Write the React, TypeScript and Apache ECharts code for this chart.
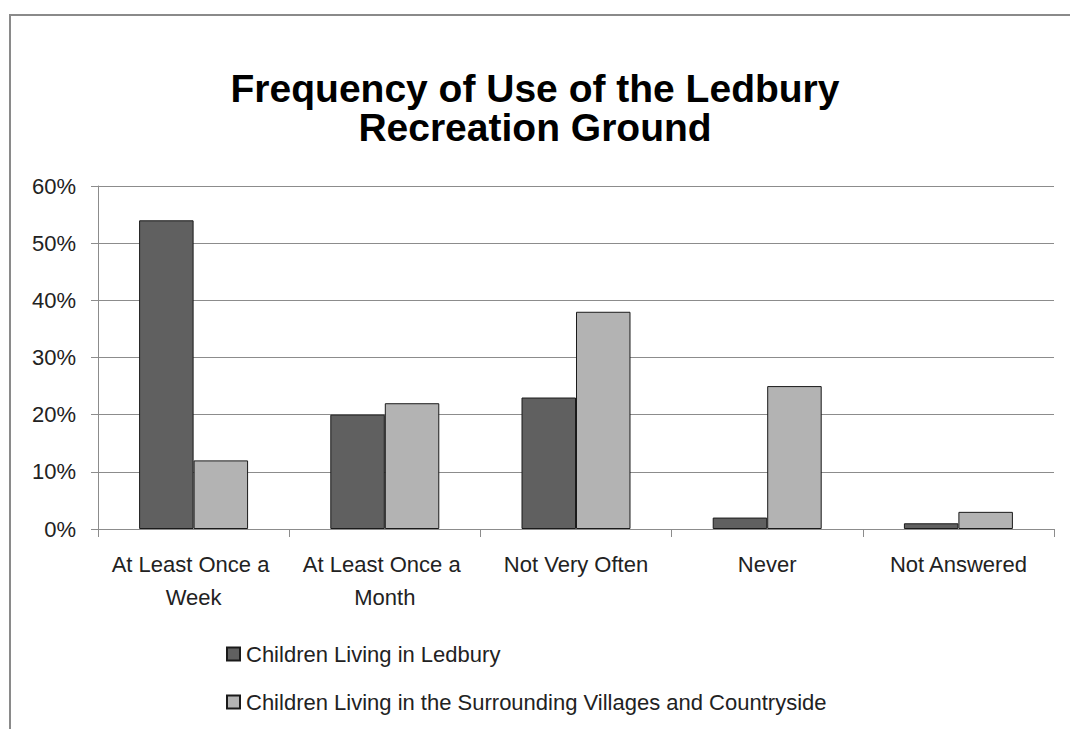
import React, { useEffect, useRef } from "react";
import * as echarts from "echarts";

const categories = ["At Least Once a Week", "At Least Once a Month", "Not Very Often", "Never", "Not Answered"];
const ledbury = [54, 20, 23, 2, 1];
const villages = [12, 22, 38, 25, 3];
const seriesNames = ["Children Living in Ledbury", "Children Living in the Surrounding Villages and Countryside"];
const yTicks = [0, 10, 20, 30, 40, 50, 60];

export default function App() {
  const ref = useRef<HTMLDivElement>(null);
  useEffect(() => {
    if (!ref.current) return;
    const chart = echarts.init(ref.current, null, { renderer: "svg" });
    const font = "'Liberation Sans', Arial, sans-serif";
    chart.setOption({
      animation: false,
      backgroundColor: "#ffffff",
      title: {
        text: "Frequency of Use of the Ledbury\nRecreation Ground",
        left: "center",
        top: 64,
        textStyle: { fontFamily: font, fontWeight: "bold", fontSize: 39, lineHeight: 39, color: "#000" },
      },
      graphic: [
        {
          type: "rect",
          shape: { x: 10, y: 15, width: 1100, height: 800 },
          style: { fill: "none", stroke: "#8a8a8a", lineWidth: 2 },
          silent: true,
          z: -1,
        },
      ],
      legend: {
        orient: "vertical",
        left: 221,
        top: 638,
        itemGap: 26,
        itemWidth: 13,
        itemHeight: 13,
        icon: "rect",
        textStyle: { fontFamily: font, fontSize: 22, color: "#222", padding: [0, 0, 0, 1] },
        data: seriesNames,
      },
      grid: { left: 98, right: 16, top: 186, bottom: 200 },
      xAxis: {
        type: "category",
        data: categories,
        axisLine: { lineStyle: { color: "#8c8c8c", width: 1 } },
        axisTick: { show: true, length: 8, lineStyle: { color: "#8c8c8c" } },
        axisLabel: {
          interval: 0,
          width: 180,
          overflow: "break",
          fontFamily: font,
          fontSize: 22,
          lineHeight: 33,
          margin: 19,
          color: "#222",
        },
      },
      yAxis: {
        type: "value",
        min: 0,
        max: 60,
        interval: 10,
        axisLine: { show: true, lineStyle: { color: "#8c8c8c", width: 1 } },
        axisTick: { show: true, length: 7, lineStyle: { color: "#8c8c8c" } },
        splitLine: { lineStyle: { color: "#8c8c8c", width: 1 } },
        axisLabel: {
          fontFamily: font,
          fontSize: 22,
          margin: 22,
          color: "#222",
          formatter: (v: number) => (yTicks.includes(v) ? v + "%" : ""),
        },
      },
      series: [
        {
          name: seriesNames[0],
          type: "bar",
          data: ledbury,
          barGap: "0%",
          barCategoryGap: "43%",
          itemStyle: { color: "#606060", borderColor: "#1a1a1a", borderWidth: 1 },
        },
        {
          name: seriesNames[1],
          type: "bar",
          data: villages,
          itemStyle: { color: "#b3b3b3", borderColor: "#1a1a1a", borderWidth: 1 },
        },
      ],
    });
    return () => chart.dispose();
  }, []);
  return (
    <div
      ref={ref}
      style={{ position: "fixed", left: 0, top: 0, width: 1070, height: 729 }}
    />
  );
}
